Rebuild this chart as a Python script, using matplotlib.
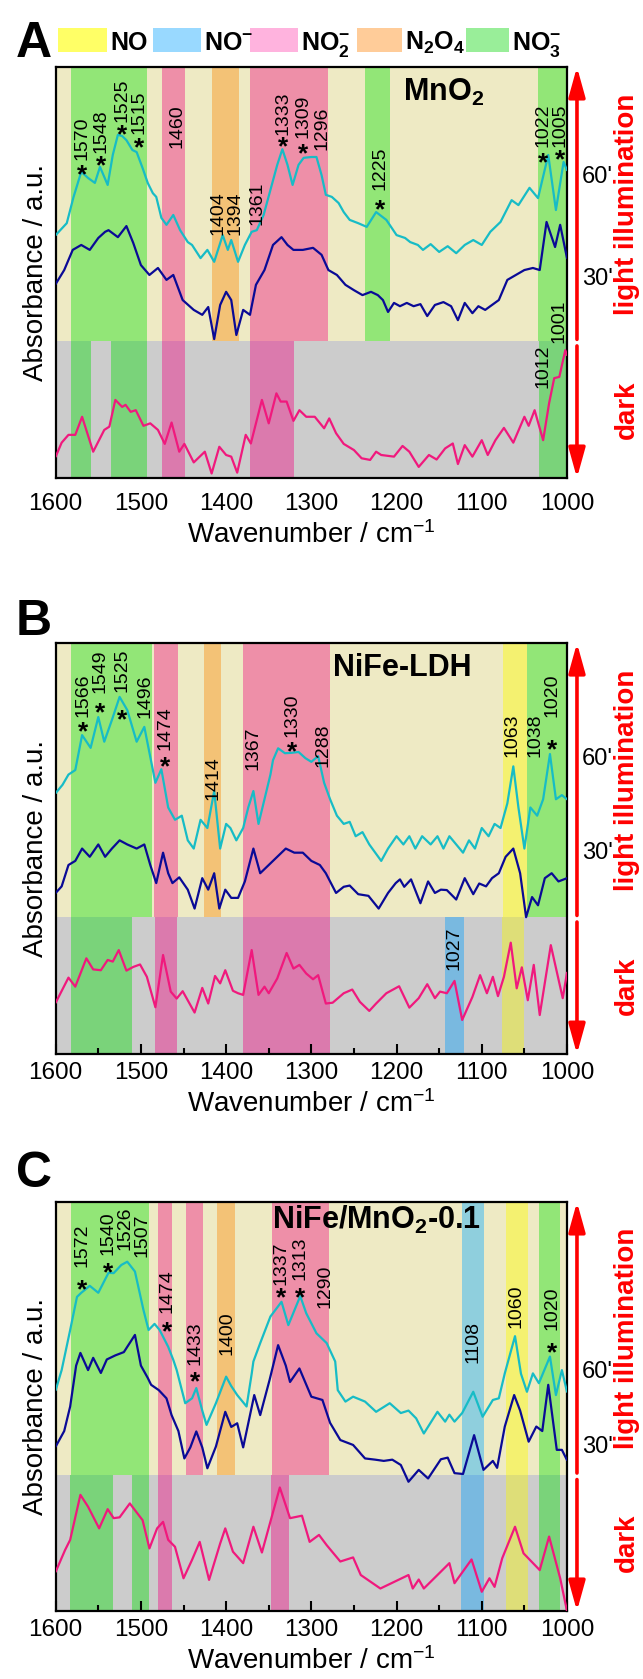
import numpy as np
import matplotlib.pyplot as plt

plt.rcParams['font.family'] = ['Liberation Sans', 'DejaVu Sans']
plt.rcParams['mathtext.fontset'] = 'custom'
plt.rcParams['mathtext.rm'] = 'Liberation Sans'
plt.rcParams['mathtext.bf'] = 'Liberation Sans:bold'
plt.rcParams['mathtext.it'] = 'Liberation Sans:italic'
plt.rcParams['mathtext.default'] = 'regular'

# ---------------------------
# Data (wavenumber / cm-1, absorbance in arbitrary units 0-100)
# ---------------------------
# Panel A : MnO2
A60_wn = [1600, 1587, 1579, 1570, 1562, 1554, 1548, 1539, 1533, 1527, 1522, 1517, 1510, 1505, 1498, 1492,
          1486, 1482, 1476, 1470, 1462, 1454, 1445, 1440, 1430, 1422, 1414, 1404, 1398, 1394, 1386, 1378,
          1370, 1364, 1356, 1348, 1340, 1334, 1328, 1322, 1315, 1309, 1300, 1294, 1288, 1283, 1276, 1268,
          1262, 1255, 1245, 1235, 1224, 1212, 1200, 1190, 1184, 1175, 1169, 1160, 1150, 1140, 1130, 1120,
          1110, 1100, 1090, 1078, 1065, 1057, 1044, 1034, 1022, 1013, 1004, 1000]
A60_y = [59.1, 62.0, 68.4, 74.5, 73.0, 71.8, 75.7, 71.3, 78.6, 83.5, 83.2, 82.2, 79.8, 79.3, 75.4, 71.8,
         69.3, 68.4, 63.3, 61.6, 64.0, 60.3, 57.4, 56.7, 53.5, 55.5, 52.6, 59.1, 55.5, 57.9, 52.6, 56.7,
         59.9, 60.3, 64.0, 70.1, 76.2, 80.0, 76.2, 71.3, 76.2, 77.9, 78.1, 78.1, 73.7, 68.9, 68.4, 66.9,
         64.7, 62.8, 62.0, 61.1, 64.7, 62.8, 59.1, 58.4, 57.4, 56.7, 55.5, 56.9, 55.0, 56.4, 54.7, 56.7,
         57.9, 56.7, 59.9, 62.3, 67.6, 66.4, 70.6, 68.1, 78.6, 65.2, 76.9, 74.9]

A30_wn = [1600, 1590, 1580, 1570, 1560, 1550, 1542, 1538, 1527, 1517, 1509, 1500, 1490, 1480, 1470, 1462,
          1451, 1438, 1428, 1421, 1414, 1407, 1400, 1394, 1388, 1380, 1372, 1365, 1355, 1345, 1335, 1328,
          1321, 1310, 1298, 1288, 1280, 1270, 1260, 1250, 1240, 1230, 1222, 1216, 1210, 1203, 1196, 1188,
          1180, 1172, 1164, 1155, 1145, 1136, 1128, 1120, 1111, 1104, 1096, 1088, 1080, 1070, 1060, 1050,
          1040, 1032, 1024, 1014, 1008, 1000]
A30_y = [47.2, 50.6, 55.5, 56.7, 55.5, 58.4, 59.9, 60.3, 58.6, 61.3, 57.2, 51.8, 49.4, 51.1, 48.2, 49.4,
         43.3, 40.9, 39.7, 41.6, 33.8, 42.1, 45.3, 43.3, 34.8, 40.9, 39.7, 47.0, 50.6, 56.7, 58.6, 56.7,
         55.5, 55.5, 56.0, 54.3, 50.6, 49.4, 47.0, 45.7, 44.5, 45.3, 44.5, 43.3, 40.4, 42.6, 41.8, 42.6,
         41.8, 42.3, 39.4, 42.1, 42.8, 41.8, 38.4, 42.6, 40.1, 41.8, 40.9, 42.1, 43.3, 48.2, 49.4, 50.6,
         51.1, 50.6, 62.3, 56.2, 61.6, 53.5]

Ad_wn = [1600, 1593, 1585, 1577, 1569, 1556, 1543, 1537, 1530, 1522, 1518, 1512, 1506, 1497, 1489, 1480,
         1472, 1464, 1455, 1449, 1438, 1425, 1417, 1408, 1400, 1394, 1387, 1377, 1371, 1358, 1350, 1341,
         1336, 1329, 1321, 1314, 1306, 1296, 1285, 1279, 1271, 1262, 1250, 1241, 1231, 1224, 1218, 1203,
         1193, 1185, 1174, 1162, 1153, 1143, 1134, 1128, 1120, 1111, 1100, 1093, 1084, 1074, 1063, 1050,
         1045, 1038, 1028, 1021, 1015, 1009, 1002, 1000]
Ad_y = [5.2, 8.6, 10.5, 10.5, 14.9, 6.4, 11.7, 12.5, 19.0, 17.3, 17.8, 16.1, 16.5, 12.7, 13.3, 11.7,
        8.3, 13.5, 6.4, 8.3, 3.8, 6.4, 1.1, 7.6, 5.6, 5.2, 1.3, 10.5, 8.4, 19.0, 13.3, 20.6,
        18.6, 18.6, 13.9, 16.5, 14.9, 14.9, 12.1, 14.5, 10.9, 8.3, 6.8, 4.8, 4.4, 6.4, 5.6, 5.2,
        7.8, 6.4, 2.7, 5.6, 4.5, 7.2, 8.4, 3.4, 8.0, 5.2, 9.2, 5.6, 9.2, 12.2, 8.6, 14.9,
        12.7, 16.5, 9.2, 18.2, 24.3, 24.6, 31.1, 29.9]

# Panel B : NiFe-LDH
B60_wn = [1600, 1592, 1585, 1577, 1569, 1559, 1550, 1543, 1534, 1525, 1516, 1505, 1496, 1489, 1483, 1476,
          1468, 1460, 1452, 1445, 1438, 1430, 1422, 1414, 1407, 1400, 1395, 1388, 1380, 1374, 1368, 1362,
          1355, 1348, 1345, 1339, 1331, 1323, 1315, 1307, 1300, 1292, 1285, 1278, 1270, 1262, 1255, 1248,
          1240, 1232, 1225, 1218, 1210, 1200, 1192, 1185, 1178, 1170, 1160, 1152, 1145, 1138, 1130, 1122,
          1115, 1108, 1100, 1092, 1085, 1078, 1070, 1063, 1057, 1050, 1043, 1035, 1028, 1020, 1013, 1006, 1000]
B60_y = [63.5, 65.5, 68.0, 69.1, 77.6, 74.5, 82.0, 76.0, 81.3, 86.9, 83.7, 76.0, 79.6, 72.3, 66.0, 69.3,
         60.0, 57.0, 58.0, 52.0, 50.0, 57.0, 55.0, 64.0, 50.0, 56.0, 55.0, 52.0, 55.0, 60.0, 64.0, 56.0,
         62.0, 68.0, 71.5, 74.4, 73.2, 73.3, 73.5, 72.0, 71.1, 72.5, 66.0, 62.0, 58.0, 56.0, 56.5, 53.0,
         54.0, 51.0, 49.0, 47.0, 50.0, 53.0, 51.0, 53.0, 50.0, 53.0, 51.0, 53.0, 50.0, 53.0, 51.0, 49.0,
         52.0, 50.0, 55.0, 53.0, 56.0, 55.0, 61.0, 70.0, 60.0, 50.0, 60.0, 58.0, 62.0, 73.0, 62.0, 63.0, 62.0]

B30_wn = [1600, 1593, 1585, 1577, 1569, 1560, 1550, 1542, 1534, 1525, 1516, 1505, 1496, 1489, 1482, 1474,
          1468, 1463, 1455, 1445, 1437, 1428, 1421, 1414, 1408, 1401, 1394, 1386, 1378, 1368, 1360, 1350,
          1340, 1330, 1320, 1310, 1300, 1290, 1283, 1277, 1271, 1262, 1255, 1245, 1233, 1221, 1210, 1201,
          1196, 1191, 1183, 1172, 1163, 1155, 1148, 1141, 1130, 1120, 1110, 1103, 1095, 1088, 1080, 1072,
          1063, 1055, 1048, 1041, 1034, 1026, 1018, 1010, 1000]
B30_y = [39.2, 40.8, 46.0, 47.0, 50.0, 48.0, 51.0, 48.0, 50.0, 52.0, 51.0, 50.0, 51.0, 46.0, 41.6, 49.0,
         44.0, 41.6, 43.0, 40.0, 35.4, 42.8, 40.0, 44.0, 35.4, 40.0, 38.0, 38.0, 42.0, 50.0, 44.0, 46.0,
         48.0, 50.0, 49.0, 49.0, 47.0, 46.0, 44.0, 41.6, 39.2, 40.7, 41.0, 38.9, 38.5, 35.4, 39.2, 41.6,
         42.5, 40.7, 42.5, 36.7, 42.0, 39.2, 40.0, 39.9, 37.6, 42.8, 38.9, 41.5, 40.8, 42.8, 44.0, 48.0,
         50.0, 44.0, 33.3, 38.2, 36.2, 42.8, 44.0, 42.0, 42.8]

Bd_wn = [1600, 1585, 1577, 1564, 1556, 1547, 1539, 1533, 1526, 1517, 1509, 1501, 1493, 1483, 1474, 1465,
         1458, 1451, 1437, 1428, 1421, 1413, 1407, 1401, 1392, 1386, 1380, 1370, 1362, 1355, 1350, 1340,
         1329, 1321, 1314, 1306, 1298, 1292, 1283, 1275, 1262, 1252, 1243, 1232, 1224, 1212, 1197, 1185,
         1174, 1164, 1155, 1149, 1141, 1132, 1123, 1111, 1102, 1094, 1087, 1081, 1074, 1066, 1059, 1053,
         1046, 1039, 1032, 1019, 1005, 1000]
Bd_y = [12.5, 18.6, 16.4, 23.3, 20.6, 20.4, 22.9, 22.5, 25.3, 20.3, 21.2, 21.8, 18.8, 11.4, 24.1, 15.2,
        13.5, 15.3, 10.1, 16.1, 12.3, 19.0, 17.2, 20.4, 15.4, 14.8, 14.4, 25.3, 14.4, 16.4, 14.8, 18.4,
        24.6, 20.8, 21.7, 19.6, 18.2, 19.2, 12.3, 12.5, 14.8, 15.7, 12.7, 10.5, 12.3, 14.8, 16.5, 11.3,
        13.6, 17.0, 13.6, 15.2, 14.8, 17.8, 8.3, 13.9, 19.2, 14.8, 18.8, 14.1, 18.8, 27.1, 16.0, 21.1,
        13.1, 21.7, 9.5, 26.5, 13.6, 19.8]

# Panel C : NiFe/MnO2-0.1
C60_wn = [1600, 1593, 1583, 1575, 1570, 1560, 1550, 1538, 1532, 1523, 1516, 1507, 1497, 1491, 1484, 1478,
          1468, 1462, 1458, 1448, 1440, 1435, 1428, 1423, 1412, 1400, 1394, 1387, 1376, 1370, 1368, 1360,
          1348, 1335, 1327, 1313, 1306, 1294, 1282, 1272, 1269, 1260, 1251, 1237, 1224, 1208, 1195, 1186,
          1177, 1168, 1152, 1143, 1138, 1132, 1123, 1110, 1099, 1087, 1080, 1073, 1061, 1054, 1047, 1040,
          1033, 1020, 1013, 1006, 1000]
C60_y = [54.0, 58.9, 68.7, 76.8, 77.8, 79.5, 77.8, 82.7, 82.6, 84.6, 85.4, 83.0, 73.6, 68.7, 70.2, 68.7,
         64.6, 61.4, 58.9, 50.8, 52.0, 54.5, 49.0, 45.5, 50.8, 57.3, 55.0, 52.8, 50.0, 58.0, 61.0, 65.5,
         72.0, 75.6, 69.9, 77.0, 72.8, 67.9, 65.5, 61.0, 54.0, 51.2, 52.4, 51.2, 48.7, 50.8, 48.4, 49.0,
         47.1, 43.4, 48.7, 46.3, 48.0, 46.3, 48.4, 53.6, 47.5, 51.6, 52.0, 58.1, 67.2, 58.0, 53.6, 58.1,
         55.7, 62.2, 52.8, 58.9, 53.6]

C30_wn = [1600, 1590, 1583, 1576, 1571, 1562, 1556, 1547, 1540, 1530, 1520, 1507, 1500, 1492, 1488, 1479,
          1470, 1464, 1456, 1449, 1442, 1435, 1428, 1422, 1412, 1401, 1394, 1387, 1380, 1367, 1360, 1349,
          1339, 1330, 1325, 1314, 1300, 1287, 1278, 1266, 1251, 1237, 1225, 1215, 1205, 1195, 1186, 1174,
          1163, 1148, 1140, 1132, 1122, 1109, 1098, 1087, 1082, 1073, 1062, 1055, 1045, 1036, 1029, 1022,
          1012, 1006, 1000]
C30_y = [40.2, 44.0, 50.0, 60.0, 63.1, 58.9, 61.9, 58.2, 61.5, 62.5, 63.3, 67.5, 60.0, 57.0, 55.3, 54.0,
         52.0, 47.9, 44.0, 37.3, 40.0, 43.9, 40.0, 34.9, 40.2, 48.7, 45.0, 45.9, 40.0, 52.8, 47.9, 56.5,
         65.0, 60.0, 56.0, 59.3, 52.4, 51.6, 46.0, 41.8, 40.6, 37.3, 37.0, 36.7, 37.0, 35.7, 31.6, 34.5,
         32.4, 37.1, 37.5, 33.7, 33.5, 43.0, 34.5, 36.7, 35.0, 45.1, 52.8, 49.0, 41.4, 45.1, 44.0, 55.3,
         39.4, 39.4, 36.9]

Cd_wn = [1600, 1589, 1583, 1571, 1562, 1549, 1539, 1532, 1525, 1513, 1498, 1490, 1481, 1474, 1468, 1460,
         1450, 1440, 1431, 1420, 1407, 1401, 1392, 1380, 1368, 1358, 1337, 1325, 1311, 1302, 1291, 1282,
         1266, 1251, 1242, 1219, 1186, 1181, 1174, 1168, 1152, 1138, 1132, 1112, 1100, 1091, 1085, 1076,
         1061, 1051, 1032, 1021, 1008, 1000]
Cd_y = [9.6, 14.9, 17.4, 28.4, 25.5, 20.2, 24.9, 22.7, 22.9, 26.3, 22.2, 15.3, 20.2, 21.8, 17.4, 15.7,
        8.0, 12.5, 16.9, 7.6, 16.5, 20.2, 14.5, 11.7, 20.6, 14.3, 30.2, 22.7, 23.3, 16.9, 18.6, 16.1,
        12.1, 13.1, 8.8, 5.5, 8.8, 5.5, 7.7, 5.5, 8.8, 11.7, 6.8, 12.6, 4.7, 8.0, 5.9, 12.9,
        20.6, 14.1, 10.0, 18.2, 8.0, 0.0]

# Assignment bands (species, high wn, low wn) for the light part and the dark part
A_light_bands = [('NO3', 1582, 1493), ('NO2', 1475, 1448), ('N2O4', 1416, 1385), ('NO2', 1372, 1280),
                 ('NO3', 1237, 1208), ('NO3', 1034, 1000)]
A_dark_bands = [('NO3', 1582, 1558), ('NO3', 1535, 1493), ('NO2', 1475, 1448), ('NO2', 1372, 1320),
                ('NO3', 1033, 1000)]
B_light_bands = [('NO3', 1582, 1487), ('NO2', 1485, 1457), ('N2O4', 1426, 1406), ('NO2', 1380, 1278),
                 ('NO', 1075, 1047), ('NO3', 1047, 1000)]
B_dark_bands = [('NO3', 1582, 1510), ('NO2', 1484, 1458), ('NO2', 1380, 1278), ('NOm', 1143, 1121),
                ('NO', 1076, 1050)]
C_light_bands = [('NO3', 1582, 1490), ('NO2', 1480, 1463), ('NO2', 1447, 1427), ('N2O4', 1411, 1390),
                 ('NO2', 1346, 1279), ('NOm', 1123, 1097), ('NO', 1072, 1046), ('NO3', 1033, 1008)]
C_dark_bands = [('NO3', 1583, 1533), ('NO3', 1510, 1491), ('NO2', 1480, 1463), ('NO2', 1347, 1326),
                ('NOm', 1124, 1097), ('NO', 1072, 1046), ('NO3', 1033, 1008)]

# peak labels: (text, x wn, bottom of text, star centre or None)
A_labels = [('1570', 1569.5, 77.4, 75.4), ('1548', 1547, 79.0, 77.4), ('1525', 1522.5, 86.7, 85.1),
            ('1515', 1502, 83.7, 81.8), ('1460', 1458, 80.2, None), ('1404', 1409, 59.1, None),
            ('1394', 1390, 59.1, None), ('1361', 1364, 61.6, None), ('1333', 1333, 83.5, 82.1),
            ('1309', 1309.4, 82.7, 80.4), ('1296', 1288, 79.8, None), ('1225', 1219.4, 70.1, 66.9),
            ('1022', 1028.4, 80.6, 78.3), ('1005', 1008, 80.6, 79.0), ('1012', 1028, 21.9, None),
            ('1001', 1009.3, 32.8, None)]
B_labels = [('1566', 1567.6, 82.1, 80.0), ('1549', 1548, 87.8, 84.5), ('1525', 1522.5, 88.2, 83.0),
            ('1496', 1495.2, 81.7, None), ('1474', 1471.7, 74.0, 71.5), ('1414', 1415, 61.8, None),
            ('1367', 1368.4, 69.1, None), ('1330', 1323, 77.2, 75.2), ('1288', 1286, 69.8, None),
            ('1063', 1064.8, 72.3, None), ('1038', 1037.4, 72.3, None), ('1020', 1017.8, 82.1, 75.6),
            ('1027', 1132.5, 20.4, None)]
C_labels = [('1572', 1569.5, 84.1, 80.2), ('1540', 1538.3, 87.0, 84.2), ('1526', 1518.7, 88.3, None),
            ('1507', 1499.1, 86.6, None), ('1474', 1469.7, 72.9, 69.9), ('1433', 1436.5, 60.1, 57.7),
            ('1400', 1399.3, 62.6, None), ('1337', 1335.6, 79.7, 78.1), ('1313', 1313.3, 80.9, 78.1),
            ('1290', 1284, 74.0, None), ('1108', 1109.9, 60.6, None), ('1060', 1059.7, 69.1, None),
            ('1020', 1017.8, 68.7, 64.6)]

# ---------------------------
# Styles
# ---------------------------
LIGHT_BG = '#EEEAC4'
DARK_BG = '#CCCCCC'
light_col = {'NO': '#F4F170', 'NOm': '#8FCFDD', 'NO2': '#EE8FA8', 'N2O4': '#F3C276', 'NO3': '#92E677'}
dark_col = {'NO': '#DEDE78', 'NOm': '#79B9E0', 'NO2': '#DB7AAD', 'N2O4': '#E0B070', 'NO3': '#7AD37A'}
legend_col = {'NO': '#FFFF66', 'NOm': '#99D9FF', 'NO2': '#FFB3DE', 'N2O4': '#FFCC99', 'NO3': '#99EE99'}
C60, C30, CDARK = '#17BCC6', '#0A0A96', '#F0197D'
SPLIT = 100 / 3.0   # light / dark border in data units

W, H = 643, 1679
fig = plt.figure(figsize=(W / 100, H / 100), dpi=100)


def panel(rect, title, l60, l30, ldark, light_bands, dark_bands, labels, ticks, pos60, pos30, title_x, title_y):
    ax = fig.add_axes(rect)
    ax.set_xlim(1600, 1000)
    ax.set_ylim(0, 100)
    ax.axvspan(1600, 1000, ymin=SPLIT / 100, ymax=1, color=LIGHT_BG, lw=0, zorder=0)
    ax.axvspan(1600, 1000, ymin=0, ymax=SPLIT / 100, color=DARK_BG, lw=0, zorder=0)
    for sp, hi, lo in light_bands:
        ax.axvspan(hi, lo, ymin=SPLIT / 100, ymax=1, color=light_col[sp], lw=0, zorder=1)
    for sp, hi, lo in dark_bands:
        ax.axvspan(hi, lo, ymin=0, ymax=SPLIT / 100, color=dark_col[sp], lw=0, zorder=1)
    for (wn, yv), col in [(l60, C60), (l30, C30), (ldark, CDARK)]:
        ax.plot(wn, yv, color=col, lw=1.6, zorder=3, solid_joinstyle='round', solid_capstyle='round')
    for txt, x, yb, ys in labels:
        ax.text(x, yb, txt, rotation=90, ha='center', va='bottom', fontsize=14, zorder=4)
        if ys is not None:
            ax.annotate('*', (x, ys), xytext=(0, -10), textcoords='offset points', ha='center',
                        va='baseline', fontsize=19, fontweight='bold', zorder=4)
    ax.text(title_x, title_y, title, ha='left', va='top', fontsize=22, fontweight='bold', zorder=4)

    ax.set_yticks([])
    ax.set_xticks(np.arange(1600, 999, -100))
    ax.set_xticks(np.arange(1550, 1000, -100), minor=True)
    if ticks:
        ax.tick_params(axis='x', which='major', direction='in', length=7, width=1.5, labelsize=17.5, pad=6)
        ax.tick_params(axis='x', which='minor', direction='in', length=4, width=1.5)
    else:
        ax.tick_params(axis='x', which='both', length=0, labelsize=17.5)
        ax.tick_params(axis='x', which='major', pad=11)
    for s in ax.spines.values():
        s.set_linewidth(1.6)
    ax.set_xlabel('Wavenumber / cm$^{-1}$', fontsize=20, labelpad=4)
    ax.set_ylabel('Absorbance / a.u.', fontsize=20, labelpad=5)

    # right side: arrows and state text
    ax.annotate('', xy=(1.0195, 1.0), xytext=(1.0195, SPLIT / 100 + 0.004), xycoords='axes fraction',
                arrowprops=dict(arrowstyle='-|>,head_length=0.9,head_width=0.25', color='red', lw=2.6,
                                shrinkA=0, shrinkB=0, mutation_scale=20))
    ax.annotate('', xy=(1.0195, 0.0), xytext=(1.0195, SPLIT / 100 - 0.012), xycoords='axes fraction',
                arrowprops=dict(arrowstyle='-|>,head_length=0.9,head_width=0.25', color='red', lw=2.6,
                                shrinkA=0, shrinkB=0, mutation_scale=20))
    ax.text(1.029, pos60, "60'", transform=ax.transAxes, ha='left', va='center', fontsize=17)
    ax.text(1.029, pos30, "30'", transform=ax.transAxes, ha='left', va='center', fontsize=17)
    ax.text(1.117, (1 + SPLIT / 100) / 2, 'light illumination', transform=ax.transAxes, rotation=90,
            ha='center', va='center', fontsize=20, fontweight='bold', color='red')
    ax.text(1.117, SPLIT / 200, 'dark', transform=ax.transAxes, rotation=90,
            ha='center', va='center', fontsize=20, fontweight='bold', color='red')
    return ax


axA = panel([0.0866, 0.7153, 0.7952, 0.2448], r'MnO$_\mathbf{2}$', (A60_wn, A60_y), (A30_wn, A30_y),
            (Ad_wn, Ad_y), A_light_bands, A_dark_bands, A_labels, False, 0.732, 0.484, 1193, 97.6)
axB = panel([0.0866, 0.3722, 0.7952, 0.2448], 'NiFe-LDH', (B60_wn, B60_y), (B30_wn, B30_y),
            (Bd_wn, Bd_y), B_light_bands, B_dark_bands, B_labels, True, 0.718, 0.49, 1274, 97.6)
axC = panel([0.0866, 0.0405, 0.7952, 0.2436], r'NiFe/MnO$_\mathbf{2}$-0.1',
            (C60_wn, C60_y), (C30_wn, C30_y), (Cd_wn, Cd_y), C_light_bands, C_dark_bands, C_labels, True,
            0.584, 0.401, 1346, 99.5)

# panel letters
for letter, ybase in [('A', 57), ('B', 635), ('C', 1187)]:
    fig.text(16 / W, 1 - ybase / H, letter, ha='left', va='baseline', fontsize=36, fontweight='bold')

# species legend at the top
legend_items = [('NO', 'NO', 58, 107), ('NOm', r'NO$^\mathbf{-}$', 153, 201),
                ('NO2', r'NO$_\mathbf{2}^\mathbf{-}$', 250, 298),
                ('N2O4', r'N$_\mathbf{2}$O$_\mathbf{4}$', 357, 402), ('NO3', r'NO$_\mathbf{3}^\mathbf{-}$', 466, 509)]
for sp, lab, x0, x1 in legend_items:
    fig.patches.append(plt.Rectangle((x0 / W, 1 - 52 / H), (x1 - x0) / W, 24 / H, transform=fig.transFigure,
                                     color=legend_col[sp], lw=0))
    fig.text((x1 + 3) / W, 1 - 50 / H, lab, ha='left', va='baseline', fontsize=18, fontweight='bold')

fig.savefig('out.png', dpi=100)
